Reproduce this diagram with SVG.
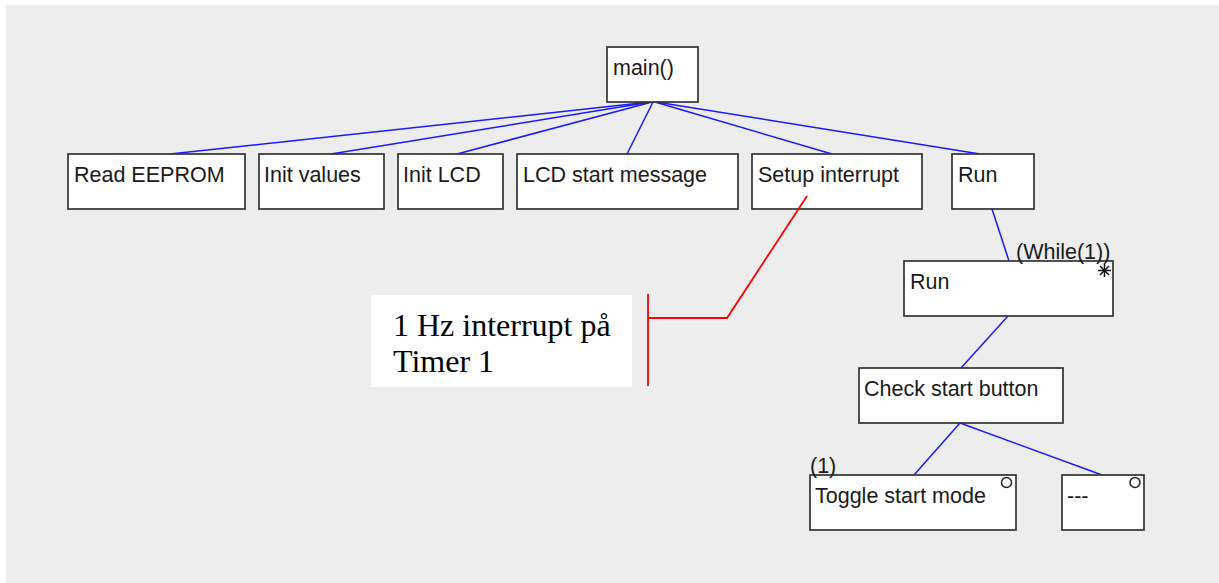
<svg xmlns="http://www.w3.org/2000/svg" width="1219" height="583" viewBox="0 0 1219 583">
<style>
.box{fill:#ffffff;stroke:#333333;stroke-width:1.7}
.lbl{font-family:"Liberation Sans",Arial,sans-serif;font-size:21.5px;fill:#1a1a1a}
.con{stroke:#1a1aff;stroke-width:1.5;fill:none}
.note{stroke:#ff0000;stroke-width:1.8;fill:none}
.mark{stroke:#222222;stroke-width:1.5;fill:#ffffff}
.nt{font-family:"Liberation Serif","Times New Roman",serif;font-size:32px;fill:#000000}
</style>
<rect x="0" y="0" width="1219" height="583" fill="#ffffff"/>
<rect x="6" y="5" width="1213" height="578" fill="#ededed"/>
<g id="connectors">
<line class="con" x1="650" y1="102" x2="170" y2="154"/>
<line class="con" x1="651" y1="102" x2="331" y2="154"/>
<line class="con" x1="652" y1="102" x2="457" y2="154"/>
<line class="con" x1="653" y1="102" x2="627" y2="154"/>
<line class="con" x1="655" y1="102" x2="832" y2="154"/>
<line class="con" x1="656" y1="102" x2="980" y2="154"/>
<line class="con" x1="992" y1="209" x2="1009" y2="261"/>
<line class="con" x1="1008" y1="316" x2="961" y2="368"/>
<line class="con" x1="960" y1="423" x2="914" y2="475"/>
<line class="con" x1="960" y1="423" x2="1102" y2="475"/>
</g>
<g id="n-main"><rect class="box" x="607" y="47" width="91" height="55"/><text class="lbl" x="613" y="75">main()</text></g>
<g id="n-read-eeprom"><rect class="box" x="68" y="154" width="177" height="55"/><text class="lbl" x="74" y="182">Read EEPROM</text></g>
<g id="n-init-values"><rect class="box" x="259" y="154" width="125" height="55"/><text class="lbl" x="264" y="182">Init values</text></g>
<g id="n-init-lcd"><rect class="box" x="398" y="154" width="105" height="55"/><text class="lbl" x="403" y="182">Init LCD</text></g>
<g id="n-lcd-start"><rect class="box" x="517" y="154" width="221" height="55"/><text class="lbl" x="523" y="182">LCD start message</text></g>
<g id="n-setup-interrupt"><rect class="box" x="752" y="154" width="170" height="55"/><text class="lbl" x="758" y="182">Setup interrupt</text></g>
<g id="n-run-top"><rect class="box" x="952" y="154" width="82" height="55"/><text class="lbl" x="958" y="182">Run</text></g>
<g id="n-run-loop">
<rect class="box" x="904" y="261" width="209" height="55"/>
<text class="lbl" x="910" y="289">Run</text>
<text class="lbl" x="1016" y="259">(While(1))</text>
<g stroke="#111111" stroke-width="1.5"><line x1="1098" y1="270.5" x2="1111" y2="270.5"/><line x1="1104.5" y1="264" x2="1104.5" y2="277"/><line x1="1100" y1="266" x2="1109" y2="275"/><line x1="1109" y1="266" x2="1100" y2="275"/></g>
</g>
<g id="n-check-start"><rect class="box" x="859" y="368" width="204" height="55"/><text class="lbl" x="864" y="396">Check start button</text></g>
<g id="n-toggle"><rect class="box" x="810" y="475" width="206" height="55"/><text class="lbl" x="815" y="503">Toggle start mode</text><text class="lbl" x="810" y="473">(1)</text><circle class="mark" cx="1006.5" cy="482.5" r="5"/></g>
<g id="n-dash"><rect class="box" x="1062" y="475" width="82" height="55"/><text class="lbl" x="1067" y="503">---</text><circle class="mark" cx="1135" cy="482.5" r="5"/></g>
<g id="n-note">
<rect x="371" y="295" width="261" height="92" fill="#ffffff"/>
<text class="nt" x="393" y="336">1 Hz interrupt på</text>
<text class="nt" x="393" y="372">Timer 1</text>
<polyline class="note" points="807,196 727,318 648,318"/>
<line class="note" x1="648" y1="294" x2="648" y2="386"/>
</g>
</svg>
